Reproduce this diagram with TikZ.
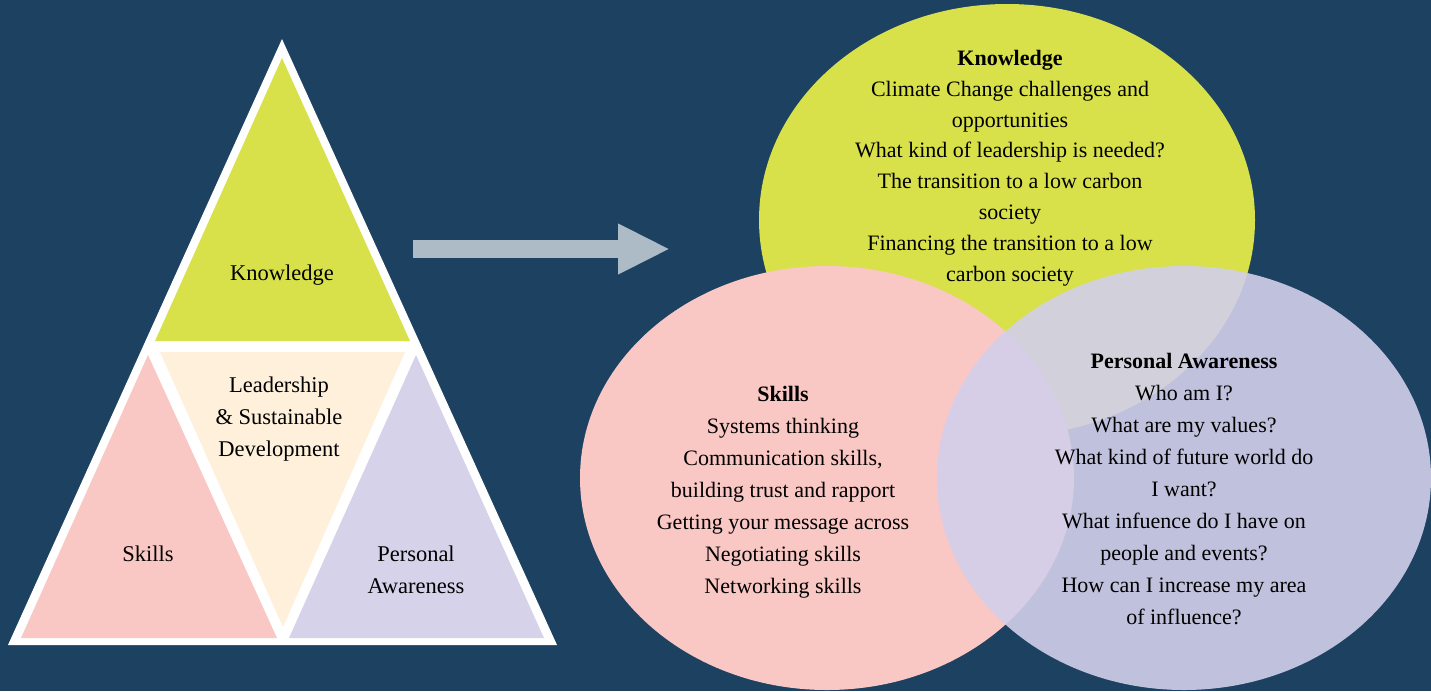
\documentclass[tikz,border=0pt]{standalone}
\usepackage{fontspec}
\setmainfont{Liberation Serif}
\usetikzlibrary{arrows.meta}
\definecolor{bgblue}{HTML}{1C4161}
\definecolor{kgreen}{HTML}{D8E14A}
\definecolor{spink}{HTML}{F9C8C4}
\definecolor{plav}{HTML}{D2CFEA}
\definecolor{tlav}{HTML}{D5D2EA}
\definecolor{lcream}{HTML}{FFF0DC}
\definecolor{arrgray}{HTML}{ADBBC6}
\begin{document}
\begin{tikzpicture}[x=1pt,y=-1pt,line join=round,
  txt/.style={align=center,text=black,font=\fontsize{22}{32}\selectfont},
  ktxt/.style={txt,font=\fontsize{22}{30.8}\selectfont},
  ttxt/.style={txt,font=\fontsize{22.5}{32}\selectfont}]
\useasboundingbox (0,0) rectangle (1431,691);
\fill[bgblue] (0,0) rectangle (1431,691);
% the triangle
\fill[white] (282,39)--(8,645)--(557,645)--cycle;
\fill[kgreen] (282,58)--(155,341)--(410,341)--cycle;
\fill[lcream] (160,352)--(405,352)--(283,627)--cycle;
\fill[spink] (148,355)--(21,638)--(277,638)--cycle;
\fill[tlav] (416,355)--(289,638)--(544,638)--cycle;
\node[ttxt] (tkn) at (282,275) {Knowledge};
\node[ttxt] (tlsd) at (279,419) {Leadership\\\& Sustainable\\Development};
\node[ttxt] (tsk) at (148,554) {Skills};
\node[ttxt] (tpa) at (416,570) {Personal\\Awareness};
% arrow
\coordinate (atail) at (413,249);
\coordinate (ahead) at (670,249);
\draw[arrgray,line width=18pt,-{Triangle[length=52pt,width=47pt]}] (atail)--(ahead);
% the three ellipses
\fill[kgreen] (1007,220) ellipse [x radius=248,y radius=216];
\fill[spink] (827,478) ellipse [x radius=247,y radius=212];
\fill[plav,opacity=.9] (1184,478) ellipse [x radius=247,y radius=212];
\node[ktxt] (ekn) at (1010,168) {\textbf{Knowledge}\\Climate Change challenges and\\opportunities\\What kind of leadership is needed?\\The transition to a low carbon\\society\\Financing the transition to a low\\carbon society};
\node[txt] (esk) at (783,492) {\textbf{Skills}\\Systems thinking\\Communication skills,\\building trust and rapport\\Getting your message across\\Negotiating skills\\Networking skills};
\node[txt] (epa) at (1184,489) {\textbf{Personal Awareness}\\Who am I?\\What are my values?\\What kind of future world do\\I want?\\What infuence do I have on\\people and events?\\How can I increase my area\\of influence?};
\end{tikzpicture}
\end{document}
